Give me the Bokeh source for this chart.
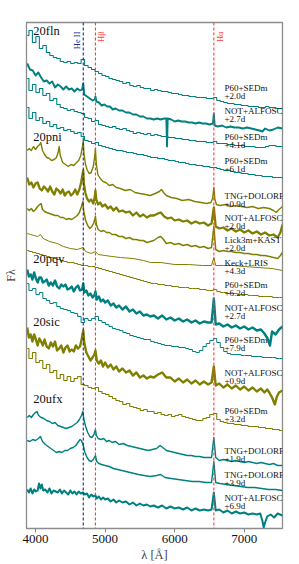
import math
from bokeh.plotting import figure
from bokeh.models import Range1d, Span, Label, FixedTicker
from bokeh.embed import file_html
from bokeh.resources import INLINE
from bokeh.core.properties import value

FONT = "Liberation Serif"
TEAL = "#008080"
OLIVE = "#808000"

# ---------------- data ----------------
sedm_wl = list(range(3880, 7581, 50))  # P60+SEDm wavelength bins [A]

fln_p60_20 = [493,498,486,492,480,483,476,473,471,470, 467,466,467,465,466,465,469,463,461,459,
              457,455,453,452,450,449,448,447,445,446, 443,442,443,441,440,440,438,439,438,437,
              437,436,435,435,434,433,433,432,432,431, 431,431,430,430,431,428,427,426,425,425,
              424,424,423,423,422,422,422,421,421,422, 421,421,420,420,419]
fln_p60_41 = [450,438,444,436,440,433,435,428,430,424, 421,420,418,419,417,416,415,411,410,407,
              408,404,403,402,401,402,400,399,400,398, 397,395,396,395,394,395,393,394,393,392,
              392,391,391,390,390,389,389,388,388,387, 387,387,386,386,387,385,385,385,384,384,
              383,383,383,382,382,382,381,381,381,382, 383,383,382,382,382]
fln_p60_61 = [421,410,416,408,411,405,407,402,404,400, 401,398,399,397,395,396,392,388,387,385,
              386,383,382,381,380,379,378,378,377,376, 376,375,374,374,373,372,371,371,370,370,
              369,368,368,367,366,366,365,364,364,363, 363,362,362,361,361,360,359,358,358,357,
              356,356,355,355,354,354,353,353,352,352, 352,351,351,351,350]
pni_p60_62 = [278,277,276,275,274,273,272,271,270,269, 268,267,266,266,265,264,263,263,262,262,
              261,260,259,258,257,256,255,254,253,252, 251,250,249,248,247,246,245,245,244,244,
              243,243,242,242,241,241,241,240,240,240, 239,239,238,238,239,237,236,236,235,235,
              235,234,234,234,233,233,233,232,232,232, 232,231,231,231,231]
pqv_p60_79 = [245,238,240,234,236,230,228,225,226,222, 220,219,218,216,215,212,206,210,208,210,
              212,208,206,204,202,200,199,198,196,195, 193,192,191,190,189,189,187,186,185,184,
              183,183,182,182,181,181,180,179,177,176, 178,182,185,188,190,186,181,177,175,174,
              174,174,173,173,173,172,172,172,171,171, 171,171,170,170,170]
sic_p60_32 = [180,170,176,166,168,160,164,156,158,150, 154,148,152,147,150,152,144,143,141,140,
              141,137,135,134,132,130,128,127,124,125, 122,121,120,118,119,117,117,115,116,114,
              113,114,112,113,114,112,111,110,109,108, 108,110,111,114,115,109,107,106,105,105,
              104,104,103,103,102,102,102,101,101,100, 100,99,99,98,98]

fln_not_27_wl = [3880,3920,3960,4000,4040,4080,4120,4160,4200,4240,4280,4320,4360,4400,4440,4480,4520,4560,4600,4640,
                 4670,4686,4700,4740,4780,4820,4850,4861,4875,4910,4950,4990,5030,5070,5110,5150,5200,5250,5300,5350,
                 5400,5450,5500,5550,5600,5650,5700,5750,5800,5850,5880,5890,5900,5950,6000,6050,6100,6150,6200,6250,
                 6300,6350,6400,6450,6500,6550,6563,6575,6620,6680,6740,6800,6860,6920,6980,7040,7100,7160,7220,7260,
                 7300,7360,7420,7480,7550]
fln_not_27 = [465,459,458,453,456,451,447,448,445,447, 441,444,442,439,442,439,440,437,440,438,
              439,445,434,432,430,428,429,432,427,426, 423,424,422,422,419,420,418,418,416,416,
              414,414,412,412,410,410,409,410,409,410, 410,382,410,409,407,408,407,407,406,406,
              405,406,405,405,404,405,415,403,402,403, 401,402,401,401,400,401,400,399,398,397,
              400,398,399,401,400]

pni_tng_09_wl = [3880,3910,3940,3970,4000,4030,4060,4075,4100,4130,4160,4200,4230,4270,4300,4325,4340,4355,4390,4430,
                 4470,4510,4550,4590,4620,4650,4670,4686,4695,4715,4740,4770,4800,4830,4850,4861,4872,4895,4930,4970,
                 5010,5060,5110,5160,5220,5290,5360,5430,5500,5580,5650,5720,5780,5810,5840,5880,5950,6030,6110,6200,
                 6290,6380,6460,6520,6545,6563,6578,6600,6650,6730,6800,6880,6960,7040,7120,7200,7280,7360,7420,7460,
                 7500,7550]
pni_tng_09 = [378,380,378,382,379,382,384,386,378,374, 371,370,368,369,371,376,382,373,366,364,
              362,364,363,366,368,373,380,388,376,365, 359,355,356,362,372,380,366,354,350,347,
              346,343,344,341,340,338,339,336,335,334, 333,335,337,339,336,333,331,330,328,329,
              327,326,325,326,330,341,329,324,323,324, 322,323,322,321,322,320,321,320,318,316,
              319,322]

pni_not_20_wl = [3880,3910,3940,3970,4000,4030,4060,4090,4120,4150,4180,4210,4240,4270,4300,4330,4360,4390,4420,4450,
                 4480,4510,4540,4570,4600,4630,4655,4675,4686,4695,4715,4740,4770,4800,4830,4850,4861,4872,4900,4930,
                 4960,5000,5040,5080,5120,5160,5200,5250,5300,5350,5400,5450,5500,5550,5600,5650,5700,5760,5800,5850,
                 5900,5950,6000,6060,6120,6180,6240,6300,6360,6420,6480,6530,6563,6590,6640,6700,6760,6820,6880,6940,
                 7000,7060,7120,7180,7240,7300,7360,7420,7480,7520,7550]
pni_not_20 = [351,344,346,341,345,346,340,338,342,340, 337,342,337,334,340,338,335,339,333,336,
              337,333,335,339,334,339,346,354,358,345, 336,330,327,329,325,331,338,329,324,326,
              322,324,320,322,318,321,317,318,316,317, 313,316,312,314,311,313,313,315,316,312,
              310,311,308,309,307,308,305,307,305,306, 303,305,321,302,300,301,298,300,297,299,
              296,298,295,297,294,296,293,294,291,296, 304]

pni_lick_20_wl = [3880,3910,3940,3970,4000,4030,4060,4080,4100,4130,4160,4200,4240,4280,4320,4360,4400,4440,4480,4520,
                  4560,4600,4630,4660,4680,4695,4720,4750,4780,4810,4840,4861,4875,4900,4940,4980,5020,5060,5100,5150,
                  5200,5250,5300,5350,5400,5450,5500,5550,5600,5650,5700,5760,5800,5840,5880,5940,6000,6060,6120,6180,
                  6240,6300,6360,6420,6480,6530,6563,6590,6640,6700,6760,6820,6880,6940,7000,7060,7120,7180,7240,7300,
                  7360,7420,7480,7520,7550]
pni_lick_20 = [320,318,320,317,319,322,324,325,319,317, 316,315,314,313,313,311,311,309,310,309,
               311,313,316,322,327,316,308,303,300,302, 306,312,304,299,297,298,296,296,294,294,
               292,292,290,291,289,289,288,288,286,287, 288,291,292,289,285,286,284,285,283,284,
               282,283,281,282,280,281,302,279,277,278, 277,277,276,276,275,275,274,274,273,273,
               272,271,270,273,276]

pni_keck_43_wl = [3880,3930,3980,4030,4071,4110,4200,4316,4400,4500,4600,4686,4720,4800,4861,4900,5000,5100,5221,5400,
                  5550,5652,5800,6000,6200,6400,6530,6563,6590,6700,6846,7000,7200,7400,7550]
pni_keck_43 = [295,294,293,292,294,290,287,285,282,280, 279,281,277,275,277,274,273,272,271,270,
               268,266,266,264,264,263,263,271,263,263, 263,262,261,260,258]

pqv_not_27_wl = [3880,3905,3930,3955,3980,4005,4030,4055,4080,4105,4130,4160,4190,4220,4250,4280,4310,4340,4370,4400,
                 4430,4460,4490,4520,4550,4580,4610,4640,4670,4686,4700,4730,4760,4790,4820,4845,4861,4880,4910,4940,
                 4970,5000,5040,5080,5120,5160,5200,5250,5300,5350,5400,5450,5500,5550,5600,5650,5700,5760,5820,5880,
                 5940,6000,6060,6120,6180,6240,6300,6360,6420,6480,6530,6563,6590,6640,6700,6760,6820,6880,6940,7000,
                 7060,7120,7180,7240,7290,7335,7370,7400,7450,7500,7550]
pqv_not_27 = [259,252,254,249,256,250,246,251,251,246, 247,249,243,246,243,248,242,240,244,242,
              244,239,240,242,237,241,243,238,239,245, 236,238,233,235,231,233,237,229,232,227,
              229,226,228,223,225,221,223,219,222,217, 219,215,217,213,214,212,213,210,213,209,
              211,208,210,207,209,206,208,205,207,206, 206,230,204,205,202,204,201,203,200,202,
              199,201,198,199,195,190,183,197,194,199, 202]

sic_not_09_wl = [3880,3905,3930,3955,3980,4005,4030,4055,4080,4105,4130,4160,4190,4220,4250,4280,4310,4340,4370,4400,
                 4430,4460,4490,4520,4550,4580,4610,4640,4665,4686,4700,4730,4760,4790,4820,4845,4861,4880,4910,4940,
                 4970,5000,5040,5080,5120,5160,5200,5250,5300,5350,5400,5450,5500,5550,5600,5650,5700,5760,5820,5880,
                 5940,6000,6060,6120,6180,6240,6300,6360,6420,6480,6530,6563,6590,6640,6700,6760,6820,6880,6940,7000,
                 7060,7120,7180,7240,7290,7330,7360,7400,7440,7470,7500,7550]
sic_not_09 = [201,191,194,187,194,189,183,190,187,183, 189,182,180,186,182,187,178,180,183,176,
              181,183,177,179,177,183,180,182,190,198, 186,176,172,168,171,174,178,168,165,168,
              162,166,161,164,159,162,157,160,156,158, 153,156,151,153,150,152,151,154,156,151,
              151,147,150,146,149,145,148,144,147,144, 146,162,143,145,141,144,140,143,139,142,
              138,141,137,140,136,139,136,131,124,132, 136,138]

ufx_tng_19_wl = [3880,3910,3940,3970,4000,4020,4045,4080,4120,4160,4200,4240,4280,4320,4360,4400,4440,4480,4520,4560,
                 4600,4630,4660,4680,4695,4720,4750,4780,4810,4840,4861,4875,4900,4940,4980,5020,5060,5100,5150,5200,
                 5260,5320,5380,5440,5500,5560,5620,5680,5740,5790,5830,5880,5940,6000,6060,6120,6180,6240,6300,6360,
                 6420,6480,6530,6563,6590,6640,6700,6760,6820,6880,6940,7000,7060,7120,7180,7240,7300,7360,7420,7480,
                 7550]
ufx_tng_19 = [111,113,111,114,116,117,113,111,110,108, 107,105,106,103,102,101,100,101,102,104,
              106,109,113,117,109,102,96,92,91,94, 99,93,90,89,90,87,88,86,87,84,
              85,83,82,81,80,79,78,79,80,83, 81,78,77,76,75,74,73,73,72,72,
              71,71,71,91,71,68,69,68,67,68, 67,66,67,66,65,66,65,64,65,63,
              63]

ufx_tng_39_wl = [3880,3920,3960,4000,4040,4070,4100,4140,4180,4220,4260,4300,4340,4380,4420,4460,4500,4540,4580,4610,
                 4640,4660,4686,4710,4740,4770,4800,4830,4861,4880,4910,4950,5000,5060,5120,5180,5240,5300,5360,5420,
                 5480,5560,5650,5740,5800,5860,5950,6050,6150,6250,6350,6450,6530,6563,6590,6650,6750,6850,6950,7050,
                 7150,7250,7350,7450,7550]
ufx_tng_39 = [88,87,89,88,90,92,87,84,82,80, 78,76,77,76,78,78,80,81,83,86,
              89,88,83,76,71,68,67,69,73,67, 65,64,63,62,60,59,58,57,56,55,
              54,53,52,53,54,51,50,49,48,47, 47,46,46,67,46,45,44,43,42,41,
              41,40,39,39,38]

ufx_not_69_wl = [3880,3905,3930,3955,3980,4005,4030,4050,4070,4090,4110,4140,4170,4200,4230,4260,4290,4320,4350,4380,
                 4410,4440,4470,4500,4530,4560,4590,4620,4650,4680,4710,4740,4770,4800,4830,4861,4880,4910,4940,4970,
                 5000,5040,5080,5120,5160,5200,5250,5300,5350,5400,5450,5500,5550,5600,5650,5700,5760,5820,5880,5940,
                 6000,6060,6120,6180,6240,6300,6360,6420,6480,6530,6563,6590,6640,6700,6760,6820,6880,6940,7000,7060,
                 7120,7180,7230,7260,7280,7300,7330,7380,7430,7480,7550]
ufx_not_69 = [39,36,40,35,39,37,38,45,40,44, 38,39,36,40,35,38,37,36,39,35,
              38,36,34,38,35,37,34,37,35,36, 34,35,31,34,32,33,30,32,29,31,
              29,30,27,29,26,28,26,27,24,26, 23,25,23,24,22,23,21,23,20,22,
              20,21,19,21,18,20,18,19,18,19, 36,18,19,16,18,15,17,15,16,14,
              15,14,15,8,1,6,12,14,11,15, 13]

# spectrum table: (wavelengths, flux, binned?, colour, telescope+instrument, phase)
spectra = [
    (sedm_wl, fln_p60_20, True, TEAL, "P60+SEDm", "+2.0d"),
    (fln_not_27_wl, fln_not_27, False, TEAL, "NOT+ALFOSC", "+2.7d"),
    (sedm_wl, fln_p60_41, True, TEAL, "P60+SEDm", "+4.1d"),
    (sedm_wl, fln_p60_61, True, TEAL, "P60+SEDm", "+6.1d"),
    (pni_tng_09_wl, pni_tng_09, False, OLIVE, "TNG+DOLORES", "+0.9d"),
    (pni_not_20_wl, pni_not_20, False, OLIVE, "NOT+ALFOSC", "+2.0d"),
    (pni_lick_20_wl, pni_lick_20, False, OLIVE, "Lick3m+KAST", "+2.0d"),
    (pni_keck_43_wl, pni_keck_43, False, OLIVE, "Keck+LRIS", "+4.3d"),
    (sedm_wl, pni_p60_62, True, OLIVE, "P60+SEDm", "+6.2d"),
    (pqv_not_27_wl, pqv_not_27, False, TEAL, "NOT+ALFOSC", "+2.7d"),
    (sedm_wl, pqv_p60_79, True, TEAL, "P60+SEDm", "+7.9d"),
    (sic_not_09_wl, sic_not_09, False, OLIVE, "NOT+ALFOSC", "+0.9d"),
    (sedm_wl, sic_p60_32, True, OLIVE, "P60+SEDm", "+3.2d"),
    (ufx_tng_19_wl, ufx_tng_19, False, TEAL, "TNG+DOLORES", "+1.9d"),
    (ufx_tng_39_wl, ufx_tng_39, False, TEAL, "TNG+DOLORES", "+3.9d"),
    (ufx_not_69_wl, ufx_not_69, False, TEAL, "NOT+ALFOSC", "+6.9d"),
]
line_widths = [1.1, 1.9, 1.1, 1.1, 1.4, 2.3, 1.5, 1.0, 1.0, 2.4, 1.0, 2.4, 1.1, 1.4, 1.4, 2.0]
label_top = [446, 423, 397, 373, 338, 316, 294, 271, 249, 226, 194, 161, 123, 83, 59, 36]
label_x = 6716

objects = ["20fln", "20pni", "20pqv", "20sic", "20ufx"]
object_x = [3968, 3968, 3968, 3968, 3968]
object_top = [505, 399, 277, 214, 137]

lines_wl = [4686, 4861, 6563]
lines_name = ["He II", "H\u03b2", "H\u03b1"]
lines_color = ["#23238e", "#ff3b3b", "#ff3b3b"]

for wl, fl, *_ in spectra:
    if len(wl) != len(fl):
        raise SystemExit("length mismatch %d %d" % (len(wl), len(fl)))

# ---------------- figure ----------------
p = figure(width=299, height=564, x_range=Range1d(3870, 7550), y_range=Range1d(0, 506),
           output_backend="svg", toolbar_location=None,
           min_border_left=26, min_border_right=17, min_border_top=22, min_border_bottom=36)
p.title.visible = False
p.xgrid.visible = False
p.ygrid.visible = False
p.outline_line_color = "#8c8c8c"
p.outline_line_width = 1.3

for (wl, fl, binned, col, _, _), lw in zip(spectra, line_widths):
    if binned:
        p.step(wl, fl, mode="center", line_color=col, line_width=lw)
    else:
        p.line(wl, fl, line_color=col, line_width=lw, line_join="round")

for w, c in zip(lines_wl, lines_color):
    p.add_layout(Span(location=w, dimension="height", line_color=c, line_dash="3 2", line_width=1.1))

offs = [-1, 1, 1]
for w, n, c, o in zip(lines_wl, lines_name, lines_color, offs):
    p.add_layout(Label(x=w, y=497, text=n, angle=math.pi / 2, x_offset=o,
                       text_align="right", text_baseline="bottom" if o < 0 else "top",
                       text_font=FONT, text_font_size="8.5px", text_color=c))

p.text(x=object_x, y=object_top, text=objects, text_font=value(FONT), text_font_size="12.5px",
       text_baseline="top", text_align="left", text_color="#111111")

for (_, _, _, _, l1, l2), top in zip(spectra, label_top):
    p.add_layout(Label(x=label_x, y=top, text=l1, text_font=FONT, text_font_size="9px",
                       text_baseline="top", text_color="#111111"))
    p.add_layout(Label(x=label_x, y=top - 8.5, text=l2, text_font=FONT, text_font_size="9px",
                       text_baseline="top", text_color="#111111"))

p.xaxis.ticker = FixedTicker(ticks=[4000, 5000, 6000, 7000])
p.xaxis.axis_label = "\u03bb [\u00c5]"
p.xaxis.axis_line_color = "#8c8c8c"
p.xaxis.major_tick_line_color = "#8c8c8c"
p.xaxis.major_tick_out = 4
p.xaxis.major_tick_in = 0
p.xaxis.minor_tick_line_color = None
p.xaxis.major_label_text_font = FONT
p.xaxis.major_label_text_font_size = "13px"
p.xaxis.major_label_text_color = "#111111"
p.xaxis.major_label_standoff = 2
p.xaxis.axis_label_text_font = FONT
p.xaxis.axis_label_text_font_size = "12.5px"
p.xaxis.axis_label_text_font_style = "normal"
p.xaxis.axis_label_standoff = 2

p.yaxis.ticker = FixedTicker(ticks=[])
p.yaxis.axis_label = "F\u03bb"
p.yaxis.axis_line_color = "#8c8c8c"
p.yaxis.major_tick_line_color = None
p.yaxis.minor_tick_line_color = None
p.yaxis.major_label_text_font_size = "0px"
p.yaxis.major_label_standoff = 0
p.yaxis.axis_label_text_font = FONT
p.yaxis.axis_label_text_font_size = "12px"
p.yaxis.axis_label_text_font_style = "normal"
p.yaxis.axis_label_standoff = 9

open("out.html", "w").write(file_html(p, INLINE))
